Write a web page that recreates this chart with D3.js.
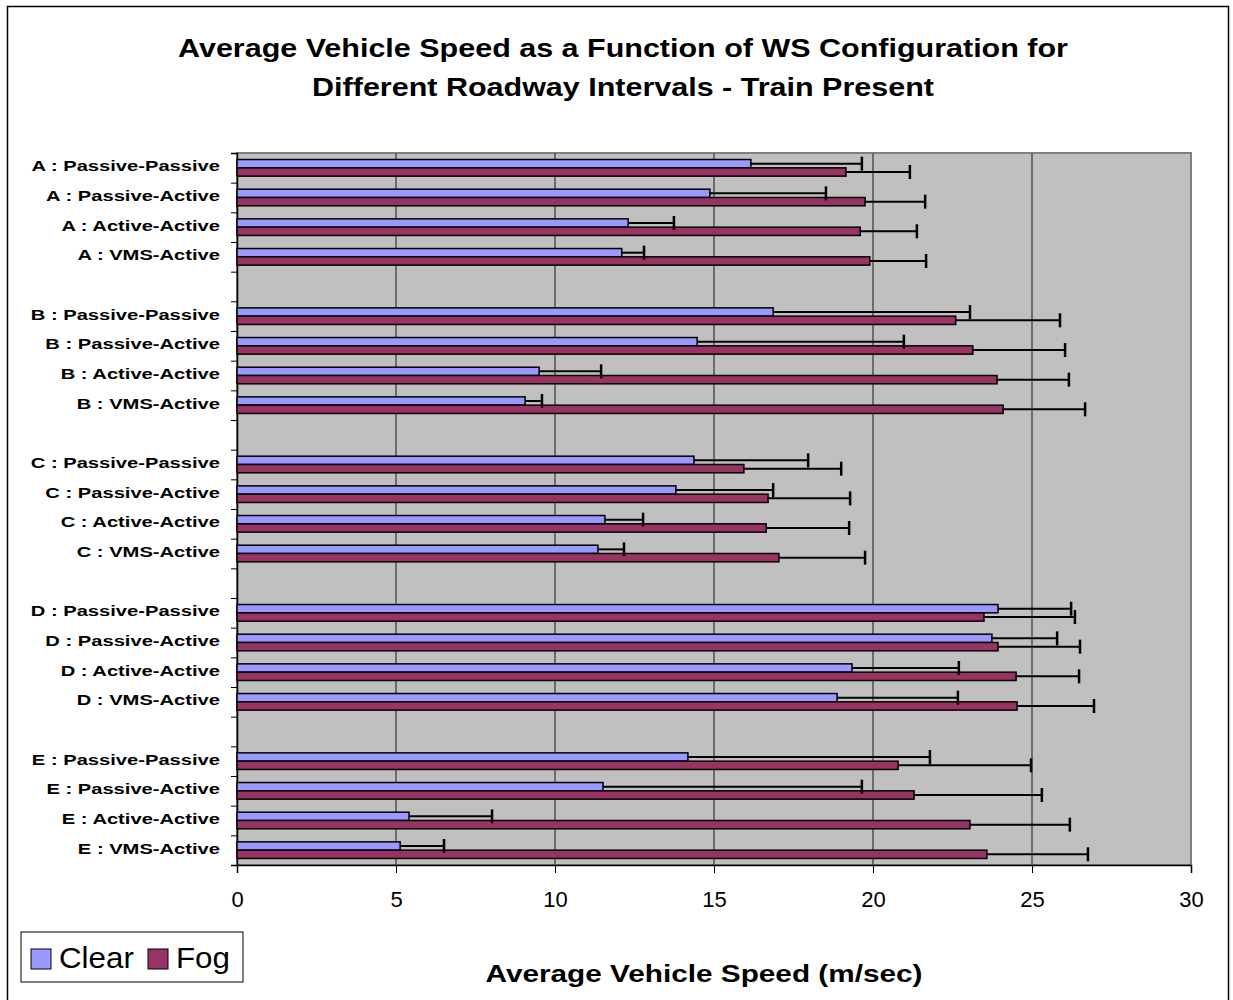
<!DOCTYPE html>
<html>
<head>
<meta charset="utf-8">
<script src="https://cdn.jsdelivr.net/npm/d3@7"></script>
<style>
body {margin:0; background:white;}
text {font-family:"Liberation Sans", Arial, sans-serif;}
</style>
</head>
<body>
<svg></svg>
<script>
// blank entries are the empty rows between the roadway intervals
var categories = ["A : Passive-Passive","A : Passive-Active","A : Active-Active","A : VMS-Active","",
                  "B : Passive-Passive","B : Passive-Active","B : Active-Active","B : VMS-Active","",
                  "C : Passive-Passive","C : Passive-Active","C : Active-Active","C : VMS-Active","",
                  "D : Passive-Passive","D : Passive-Active","D : Active-Active","D : VMS-Active","",
                  "E : Passive-Passive","E : Passive-Active","E : Active-Active","E : VMS-Active"]

var seriesNames = ["Clear","Fog"]

var clearSpeed = [16.16,14.87,12.30,12.10,null, 16.86,14.47,9.50,9.06,null, 14.37,13.80,11.57,11.35,null,
                  23.93,23.74,19.34,18.87,null, 14.18,11.51,5.41,5.13]
var clearErr   = [3.49,3.65,1.44,0.70,null, 6.19,6.50,1.95,0.53,null, 3.59,3.06,1.20,0.82,null,
                  2.30,2.05,3.36,3.80,null, 7.61,8.14,2.61,1.38]
var fogSpeed   = [19.15,19.75,19.60,19.90,null, 22.60,23.14,23.90,24.09,null, 15.94,16.70,16.64,17.04,null,
                  23.49,23.93,24.50,24.53,null, 20.79,21.29,23.05,23.58]
var fogErr     = [2.01,1.89,1.78,1.77,null, 3.28,2.90,2.26,2.58,null, 3.06,2.58,2.61,2.71,null,
                  2.86,2.58,1.98,2.42,null, 4.18,4.02,3.14,3.18]

var xTicks = [0,5,10,15,20,25,30]

var colors = {Clear:"#9999FF", Fog:"#993366"}

var screen = {width:1233,height:1000}
var margins = {top:153,right:42,left:237,bottom:135}

var svg = d3.select("svg")
            .attr("width",screen.width)
            .attr("height",screen.height)

var width = screen.width - margins.left - margins.right
var height = screen.height - margins.top - margins.bottom

// the original picture is stretched sideways, so text gets a horizontal scale
var wideText = function(sel,x,y,sx)
{
    return sel.attr("transform","translate("+x+","+y+") scale("+sx+",1)")
}

// outer chart frame
svg.append("rect")
   .attr("x",7.5).attr("y",6.5)
   .attr("width",1221).attr("height",1000)
   .attr("fill","white")
   .attr("stroke","black")
   .attr("stroke-width",1.5)

wideText(svg.append("text"),623,57,1.22)
   .attr("text-anchor","middle")
   .attr("font-size","25px").attr("font-weight","bold")
   .text("Average Vehicle Speed as a Function of WS Configuration for")
wideText(svg.append("text"),623,96,1.22)
   .attr("text-anchor","middle")
   .attr("font-size","25px").attr("font-weight","bold")
   .text("Different Roadway Intervals - Train Present")

var rows = categories.map(function(name,i)
{
    return {name:name, index:i, values:[
        {series:"Clear", value:clearSpeed[i], err:clearErr[i]},
        {series:"Fog", value:fogSpeed[i], err:fogErr[i]}]}
})

var xScale = d3.scaleLinear()
               .domain([0,30])
               .range([0,width])
var yScale = d3.scaleBand()
               .domain(d3.range(categories.length))
               .range([0,height])
var ySub = d3.scaleBand()
             .domain(seriesNames)
             .range([yScale.bandwidth()*0.22, yScale.bandwidth()*0.78])

var graph = svg.append("g")
               .attr("id","graph")
               .attr("transform","translate("+margins.left+","+margins.top+")")

graph.append("rect")
     .attr("width",width).attr("height",height)
     .attr("fill","#C0C0C0")
     .attr("stroke","#808080")
     .attr("stroke-width",2)

graph.selectAll(".grid")
     .data(xTicks.filter(function(t){return t>0 && t<30}))
     .enter()
     .append("line")
     .classed("grid",true)
     .attr("x1",function(t){return xScale(t)})
     .attr("x2",function(t){return xScale(t)})
     .attr("y1",0).attr("y2",height)
     .attr("stroke","#505050")
     .attr("stroke-width",1.5)

var xAxis = d3.axisBottom(xScale)
              .tickValues(xTicks)
              .tickSize(8)
              .tickPadding(18)
var yAxis = d3.axisLeft(d3.scaleLinear().domain([0,categories.length]).range([0,height]))
              .tickValues(d3.range(categories.length+1))
              .tickSize(6)
              .tickFormat("")

var gx = graph.append("g")
              .attr("transform","translate(0,"+height+")")
              .call(xAxis)
gx.select(".domain").attr("stroke","black").attr("stroke-width",1.5)
gx.selectAll("text").attr("font-size","22px").attr("fill","black")
  .style("font-family","'Liberation Sans', Arial, sans-serif")

var gy = graph.append("g").call(yAxis)
gy.select(".domain").attr("stroke","black").attr("stroke-width",1.5)

graph.selectAll(".catLabel")
     .data(rows.filter(function(r){return r.name != ""}))
     .enter()
     .append("text")
     .classed("catLabel",true)
     .attr("transform",function(r){return "translate(-17,"+(yScale(r.index) + yScale.bandwidth()/2 - 2)+") scale(1.3,1)"})
     .attr("dy","0.35em")
     .attr("text-anchor","end")
     .attr("font-size","15.5px").attr("font-weight","bold")
     .text(function(r){return r.name})

var groups = graph.selectAll(".row")
                  .data(rows.filter(function(r){return r.name != ""}))
                  .enter()
                  .append("g")
                  .classed("row",true)
                  .attr("transform",function(r){return "translate(0,"+yScale(r.index)+")"})

groups.selectAll("rect")
      .data(function(r){return r.values})
      .enter()
      .append("rect")
      .attr("x",0)
      .attr("y",function(d){return ySub(d.series)})
      .attr("width",function(d){return xScale(d.value)})
      .attr("height",ySub.bandwidth())
      .attr("fill",function(d){return colors[d.series]})
      .attr("stroke","black")
      .attr("stroke-width",1.5)

var errG = groups.selectAll(".err")
                 .data(function(r){return r.values})
                 .enter()
                 .append("g")
                 .classed("err",true)
errG.append("line")
    .attr("x1",function(d){return xScale(d.value)})
    .attr("x2",function(d){return xScale(d.value+d.err)})
    .attr("y1",function(d){return ySub(d.series)+ySub.bandwidth()/2})
    .attr("y2",function(d){return ySub(d.series)+ySub.bandwidth()/2})
    .attr("stroke","black").attr("stroke-width",2)
errG.append("line")
    .attr("x1",function(d){return xScale(d.value+d.err)})
    .attr("x2",function(d){return xScale(d.value+d.err)})
    .attr("y1",function(d){return ySub(d.series)+ySub.bandwidth()/2-7})
    .attr("y2",function(d){return ySub(d.series)+ySub.bandwidth()/2+7})
    .attr("stroke","black").attr("stroke-width",2.5)

wideText(svg.append("text"),704,982,1.24)
   .attr("text-anchor","middle")
   .attr("font-size","24px").attr("font-weight","bold")
   .text("Average Vehicle Speed (m/sec)")

// legend
var legend = svg.append("g").attr("transform","translate(21,932)")
legend.append("rect")
      .attr("width",222).attr("height",50)
      .attr("fill","white").attr("stroke","black").attr("stroke-width",1)
var legendX = {Clear:10, Fog:127}
var items = legend.selectAll(".item")
                  .data(seriesNames)
                  .enter()
                  .append("g")
                  .classed("item",true)
                  .attr("transform",function(s){return "translate("+legendX[s]+",0)"})
items.append("rect")
     .attr("y",17).attr("width",20).attr("height",20)
     .attr("fill",function(s){return colors[s]})
     .attr("stroke","black").attr("stroke-width",1)
items.append("text")
     .attr("transform","translate(28,36) scale(1.08,1)")
     .attr("font-size","29px")
     .text(function(s){return s})
</script>
</body>
</html>
